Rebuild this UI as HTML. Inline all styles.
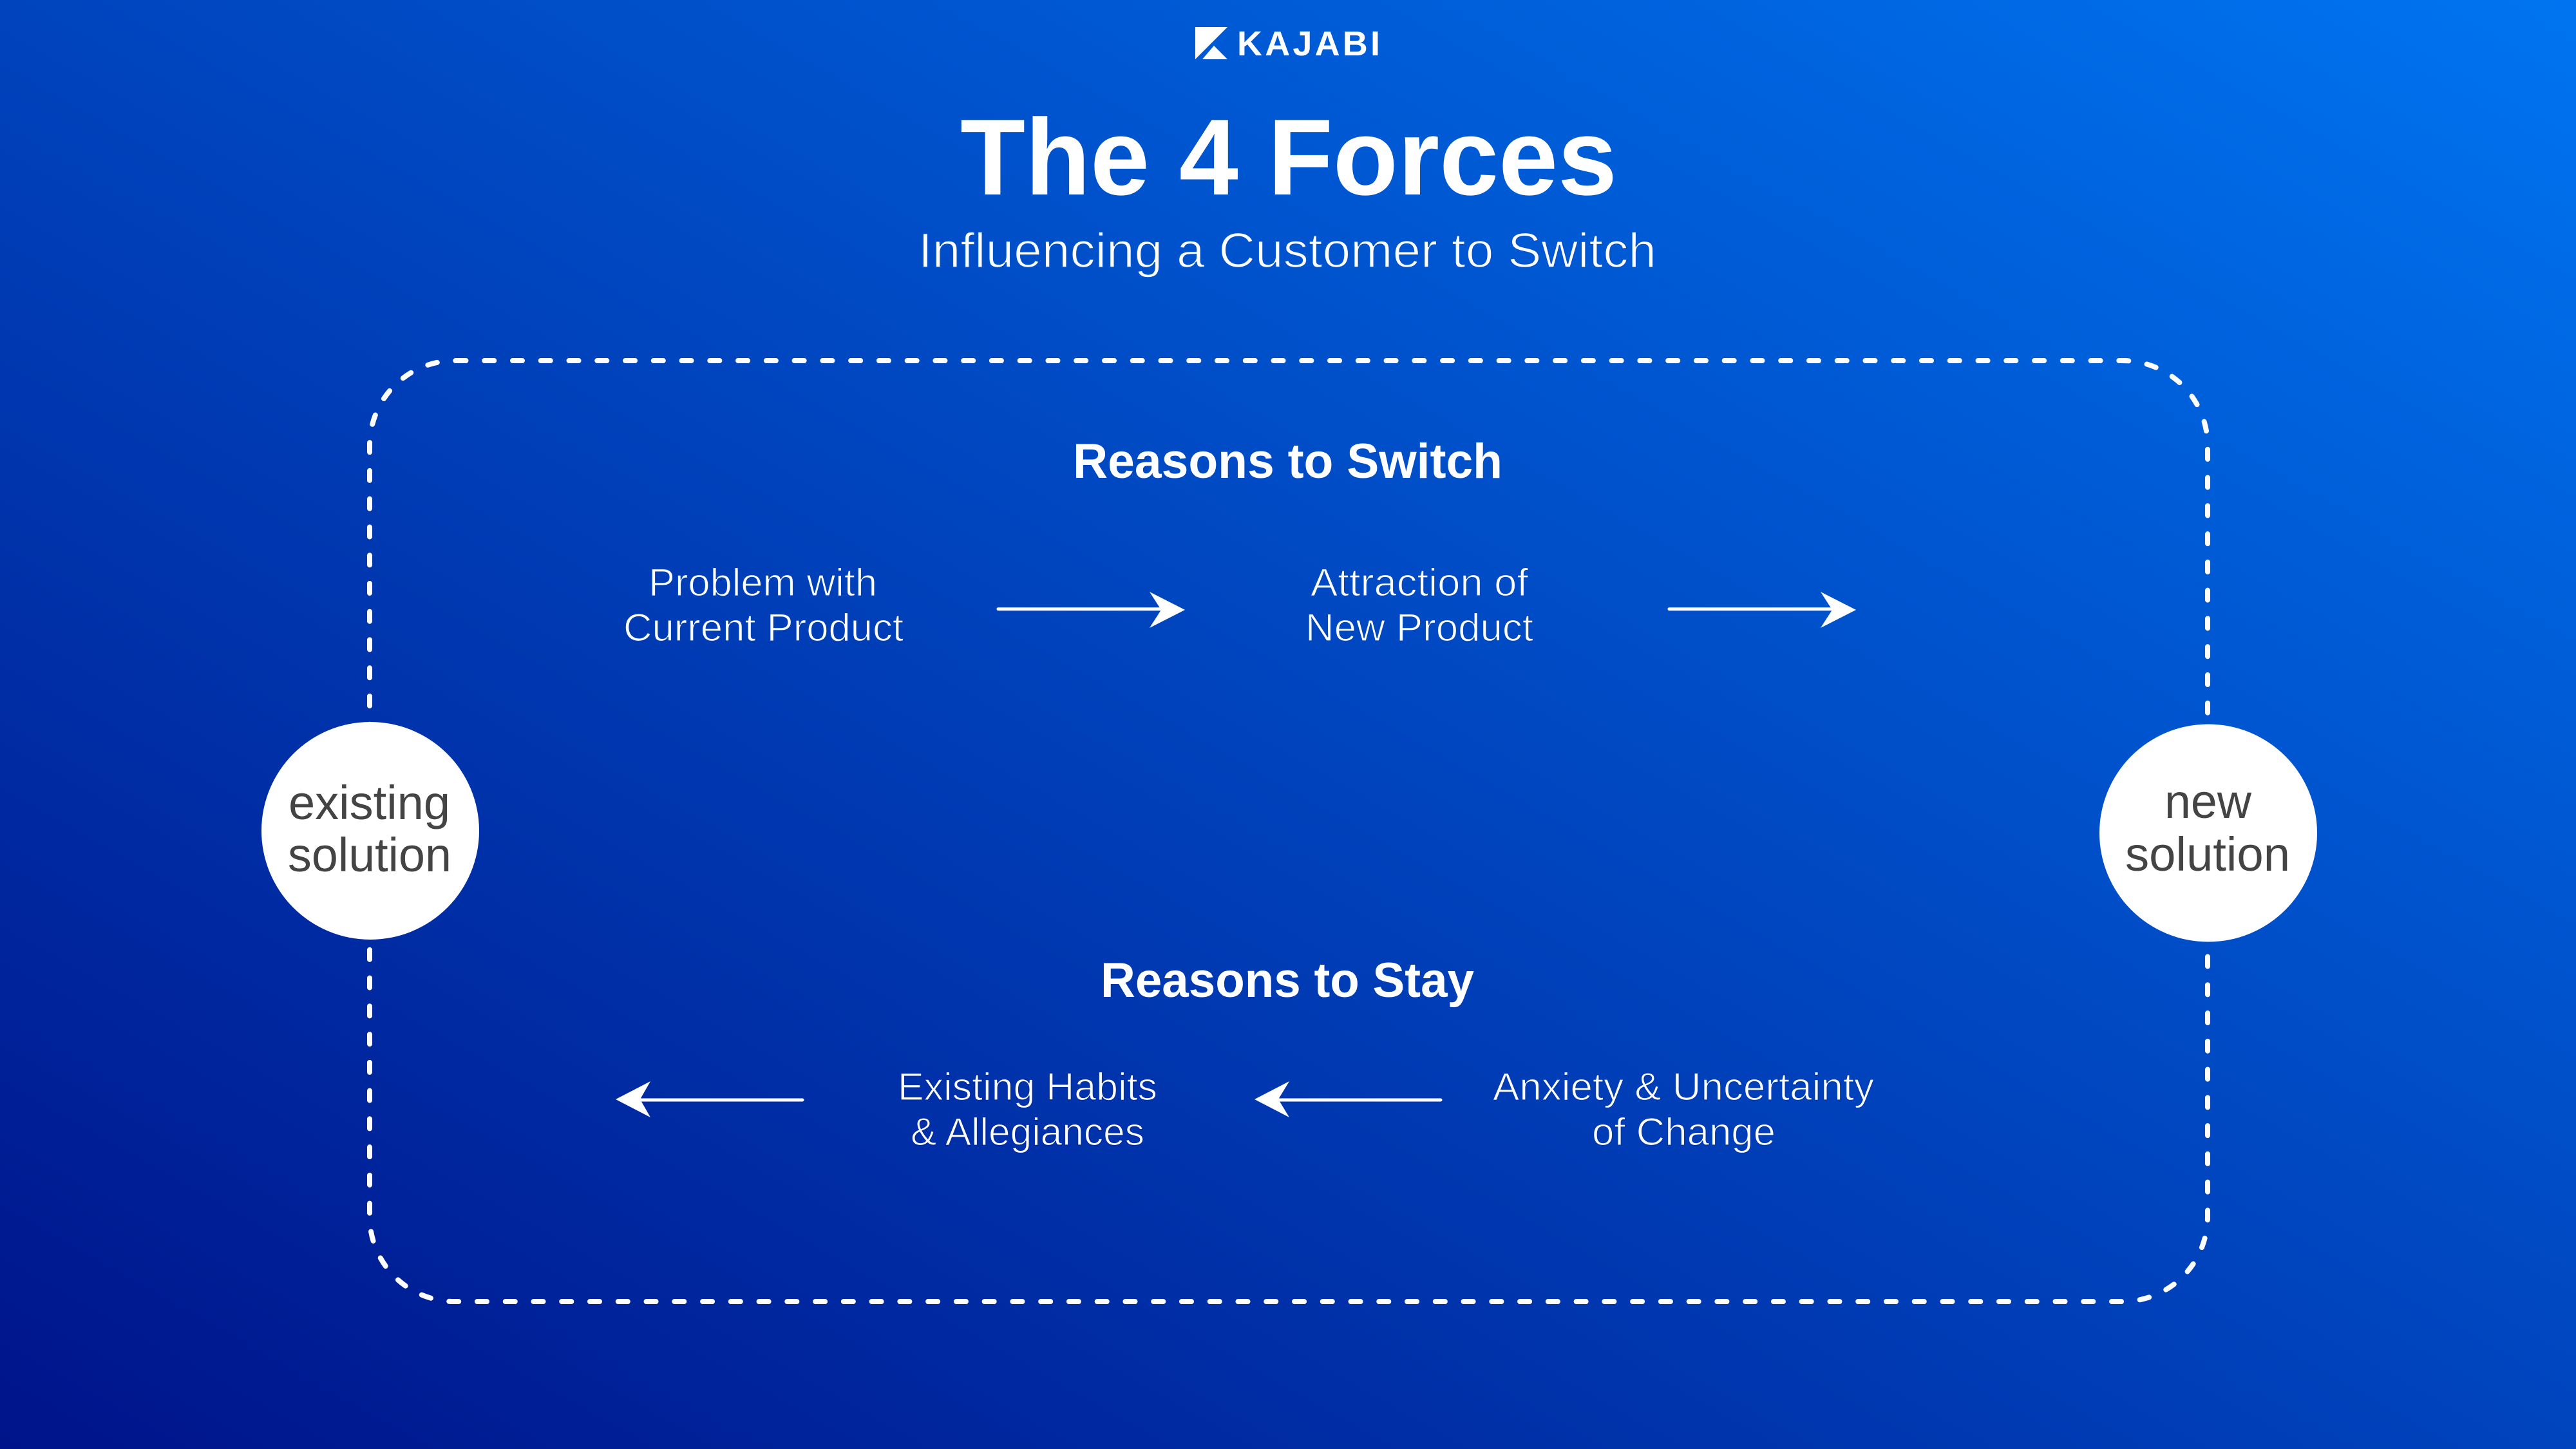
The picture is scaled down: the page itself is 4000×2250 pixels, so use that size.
<!DOCTYPE html>
<html lang="en">
<head>
<meta charset="utf-8">
<title>The 4 Forces</title>
<style>
html,body{margin:0;padding:0;width:4000px;height:2250px;overflow:hidden}
body{background:linear-gradient(to top right,#00138a 0%,#0074f0 100%)}
svg{display:block;position:absolute;left:0;top:0}
text{font-family:"Liberation Sans",Arial,sans-serif;fill:#fff}
.b{font-weight:700}
.l{font-size:60px;stroke-width:1.3px}
.c{font-size:74px;fill:#444}
</style>
</head>
<body>
<svg width="4000" height="2250" viewBox="0 0 4000 2250" xmlns="http://www.w3.org/2000/svg">
  <path d="M708.5,560 H3296 A132,132 0 0 1 3428,692 V1889 A132,132 0 0 1 3296,2021 H706 A132,132 0 0 1 574,1889 V692 A132,132 0 0 1 706,560 Z" fill="none" stroke="#fff" stroke-width="8" stroke-linecap="round" stroke-dasharray="15 28.76"/>

  <circle cx="575" cy="1290" r="169" fill="#fff"/>
  <circle cx="3429" cy="1293.5" r="169" fill="#fff"/>

  <!-- Logo -->
  <polygon points="1856,42 1906,42 1856,92" fill="#fff"/>
  <polygon points="1885,71 1906,92 1867,92" fill="#fff"/>
  <text class="b" x="1921" y="86" font-size="54" textLength="222" lengthAdjust="spacing">KAJABI</text>

  <text class="b" x="1491" y="302" font-size="168" textLength="1020" lengthAdjust="spacingAndGlyphs">The 4 Forces</text>
  <text x="1426" y="415" font-size="76" textLength="1146" lengthAdjust="spacingAndGlyphs" stroke="#0054d0" stroke-width="1.6">Influencing a Customer to Switch</text>

  <text class="b" x="1666" y="742" font-size="76" textLength="667" lengthAdjust="spacingAndGlyphs">Reasons to Switch</text>
  <text class="b" x="1709" y="1548" font-size="76" textLength="580" lengthAdjust="spacingAndGlyphs">Reasons to Stay</text>

  <text class="l" x="1007" y="925" textLength="355" lengthAdjust="spacingAndGlyphs" stroke="#0044bc">Problem with</text>
  <text class="l" x="968" y="995" textLength="435" lengthAdjust="spacingAndGlyphs" stroke="#0042b8">Current Product</text>
  <text class="l" x="2035" y="925" textLength="338" lengthAdjust="spacingAndGlyphs" stroke="#004ac2">Attraction of</text>
  <text class="l" x="2027" y="995" textLength="354" lengthAdjust="spacingAndGlyphs" stroke="#0048be">New Product</text>

  <text class="l" x="1394" y="1708" textLength="403" lengthAdjust="spacingAndGlyphs" stroke="#002fa8">Existing Habits</text>
  <text class="l" x="1414" y="1778" textLength="363" lengthAdjust="spacingAndGlyphs" stroke="#002da6">&amp; Allegiances</text>
  <text class="l" x="2318" y="1708" textLength="592" lengthAdjust="spacingAndGlyphs" stroke="#003cb4">Anxiety &amp; Uncertainty</text>
  <text class="l" x="2472" y="1778" textLength="285" lengthAdjust="spacingAndGlyphs" stroke="#003ab2">of Change</text>

  <text class="c" x="448" y="1272" textLength="251" lengthAdjust="spacingAndGlyphs">existing</text>
  <text class="c" x="447" y="1353" textLength="254" lengthAdjust="spacingAndGlyphs">solution</text>
  <text class="c" x="3361" y="1270" textLength="135" lengthAdjust="spacingAndGlyphs">new</text>
  <text class="c" x="3300" y="1352" textLength="256" lengthAdjust="spacingAndGlyphs">solution</text>

  <!-- Arrows -->
  <g fill="#fff" stroke="#fff">
    <line x1="1550" y1="945.7" x2="1810" y2="945.7" stroke-width="5" stroke-linecap="round"/>
    <polygon stroke="none" points="1785,919 1840,947 1785,975 1803,947"/>
    <line x1="2592" y1="945.7" x2="2852" y2="945.7" stroke-width="5" stroke-linecap="round"/>
    <polygon stroke="none" points="2827,919 2882,947 2827,975 2845,947"/>
    <line x1="1246" y1="1708" x2="986" y2="1708" stroke-width="5" stroke-linecap="round"/>
    <polygon stroke="none" points="1010,1679 956,1707 1010,1735 994,1707"/>
    <line x1="2237" y1="1708" x2="1977" y2="1708" stroke-width="5" stroke-linecap="round"/>
    <polygon stroke="none" points="2002,1679 1948,1707 2002,1735 1985,1707"/>
  </g>
</svg>
</body>
</html>
